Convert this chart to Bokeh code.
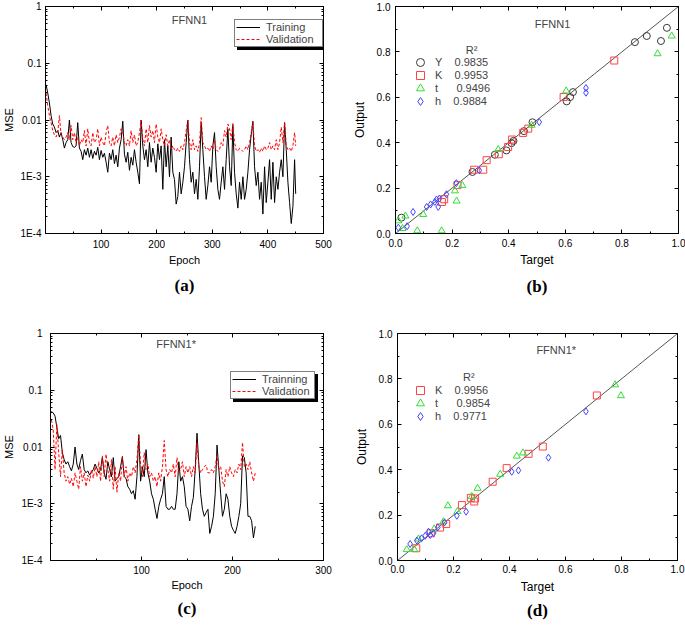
from bokeh.plotting import figure
from bokeh.models import (FixedTicker, LinearAxis, LogAxis, Legend, LegendItem, Label,
                          Title, CustomJSTickFormatter, PrintfTickFormatter)
from bokeh.layouts import row, column
from bokeh.embed import file_html
from bokeh.resources import INLINE

SANS = "Liberation Sans"
SERIF = "Liberation Serif"

# ---------------- data: panel (a) FFNN1 training history ----------------
epoch_a = list(range(1, 449, 3)) + [450]
train_a = [0.042, 0.030, 0.020, 0.012, 0.0085, 0.0075, 0.0060, 0.0065, 0.0050, 0.0060,
           0.0045, 0.0032, 0.0040, 0.0045, 0.0100, 0.0040, 0.0034, 0.0033, 0.0035, 0.0090,
           0.0032, 0.0028, 0.0020, 0.0030, 0.0024, 0.0032, 0.0022, 0.0030, 0.0021, 0.0028,
           0.0024, 0.0033, 0.0020, 0.0029, 0.0022, 0.0026, 0.0018, 0.0012, 0.0026, 0.0020,
           0.0030, 0.0017, 0.0024, 0.0015, 0.0032, 0.0045, 0.0095, 0.0025, 0.0018, 0.0027,
           0.0013, 0.0022, 0.0016, 0.0030, 0.0018, 0.0012, 0.00075, 0.0100, 0.0035, 0.0020,
           0.0030, 0.0015, 0.0040, 0.0018, 0.0032, 0.0022, 0.0012, 0.0038, 0.0020, 0.0035,
           0.0006, 0.0045, 0.0015, 0.0035, 0.0010, 0.0050, 0.0012, 0.0009, 0.00033, 0.00045,
           0.0012, 0.0005, 0.0008, 0.0015, 0.0040, 0.0100, 0.0020, 0.0008, 0.0012, 0.0005,
           0.0009, 0.0004, 0.0015, 0.0090, 0.0030, 0.0010, 0.0004, 0.0007, 0.0015, 0.0008,
           0.0035, 0.0060, 0.0015, 0.0006, 0.0004, 0.0008, 0.0015, 0.0006, 0.0020, 0.0070,
           0.0015, 0.0007, 0.0080, 0.0012, 0.0005, 0.00028, 0.0008, 0.0004, 0.0010, 0.0004,
           0.0006, 0.0012, 0.0030, 0.0055, 0.0095, 0.0015, 0.0007, 0.0012, 0.0004, 0.0008,
           0.00022, 0.0015, 0.00035, 0.0008, 0.0020, 0.0004, 0.0018, 0.00035, 0.0010, 0.0006,
           0.0012, 0.0020, 0.0010, 0.0090, 0.0030, 0.0008, 0.00035, 0.00015, 0.0003, 0.0020,
           0.0005]
valid_a = [0.030, 0.018, 0.012, 0.009, 0.0065, 0.0055, 0.0050, 0.0060, 0.0120, 0.0055,
           0.0050, 0.0045, 0.0050, 0.0060, 0.0045, 0.0080, 0.0045, 0.0060, 0.0040, 0.0050,
           0.0035, 0.0045, 0.0040, 0.0065, 0.0035, 0.0070, 0.0040, 0.0035, 0.0060, 0.0040,
           0.0045, 0.0070, 0.0035, 0.0050, 0.0040, 0.0035, 0.0060, 0.0080, 0.0040, 0.0035,
           0.0050, 0.0035, 0.0055, 0.0040, 0.0050, 0.0070, 0.0060, 0.0040, 0.0035, 0.0045,
           0.0035, 0.0065, 0.0040, 0.0055, 0.0035, 0.0040, 0.0060, 0.0100, 0.0045, 0.0035,
           0.0070, 0.0040, 0.0080, 0.0050, 0.0065, 0.0040, 0.0085, 0.0050, 0.0040, 0.0070,
           0.0045, 0.0035, 0.0055, 0.0035, 0.0045, 0.0030, 0.0035, 0.0030, 0.0028, 0.0032,
           0.0028, 0.0035, 0.0030, 0.0040, 0.0065, 0.0100, 0.0040, 0.0030, 0.0045, 0.0030,
           0.0035, 0.0028, 0.0040, 0.0110, 0.0040, 0.0035, 0.0030, 0.0032, 0.0028, 0.0035,
           0.0030, 0.0045, 0.0030, 0.0028, 0.0030, 0.0040, 0.0035, 0.0065, 0.0050, 0.0085,
           0.0070, 0.0045, 0.0090, 0.0040, 0.0030, 0.0028, 0.0032, 0.0030, 0.0028, 0.0030,
           0.0035, 0.0030, 0.0040, 0.0060, 0.0090, 0.0035, 0.0028, 0.0030, 0.0027, 0.0032,
           0.0028, 0.0035, 0.0030, 0.0032, 0.0040, 0.0030, 0.0035, 0.0030, 0.0045, 0.0030,
           0.0040, 0.0075, 0.0040, 0.0090, 0.0035, 0.0030, 0.0032, 0.0028, 0.0035, 0.0060,
           0.0035]

# ---------------- data: panel (c) FFNN1* training history ----------------
epoch_c = list(range(1, 226, 2))
train_c = [0.042, 0.040, 0.035, 0.022, 0.014, 0.016, 0.008, 0.006, 0.005, 0.0055,
           0.0045, 0.0038, 0.005, 0.010, 0.005, 0.004, 0.0058, 0.0075, 0.004, 0.0035,
           0.0038, 0.0032, 0.0036, 0.004, 0.005, 0.0042, 0.0035, 0.004, 0.0066, 0.0035,
           0.0027, 0.0055, 0.004, 0.003, 0.0065, 0.0025, 0.0028, 0.003, 0.0045, 0.0068,
           0.003, 0.0028, 0.002, 0.0018, 0.0015, 0.0017, 0.0012, 0.003, 0.0165, 0.0025,
           0.0045, 0.003, 0.009, 0.0035, 0.0025, 0.0015, 0.0012, 0.0008, 0.00055, 0.0009,
           0.0012, 0.0015, 0.003, 0.0009, 0.0008, 0.0008, 0.0009, 0.0008, 0.0008, 0.0015,
           0.0055, 0.0025, 0.003, 0.002, 0.0009, 0.0008, 0.0005, 0.0009, 0.0013, 0.004,
           0.0175, 0.005, 0.0015, 0.0008, 0.0006, 0.0007, 0.0008, 0.0003, 0.0004, 0.0006,
           0.0015, 0.0108, 0.004, 0.0015, 0.0006, 0.0008, 0.0015, 0.0012, 0.0006, 0.0004,
           0.00034, 0.0003, 0.0004, 0.0006, 0.001, 0.007, 0.0065, 0.0035, 0.0006, 0.0006,
           0.0005, 0.00025, 0.0004]
valid_c = [0.030, 0.020, 0.004, 0.025, 0.008, 0.003, 0.009, 0.0035, 0.0025, 0.003,
           0.0022, 0.0028, 0.002, 0.0035, 0.0025, 0.0018, 0.0045, 0.0025, 0.0035, 0.002,
           0.0032, 0.0025, 0.004, 0.0028, 0.0045, 0.003, 0.0055, 0.0025, 0.007, 0.003,
           0.0075, 0.004, 0.0025, 0.006, 0.0018, 0.0045, 0.0016, 0.0035, 0.0025, 0.0065,
           0.003, 0.0045, 0.0025, 0.0035, 0.003, 0.0045, 0.0035, 0.006, 0.0165, 0.005,
           0.003, 0.008, 0.004, 0.005, 0.003, 0.0035, 0.0025, 0.003, 0.002, 0.0035,
           0.0025, 0.0045, 0.013, 0.004, 0.003, 0.004, 0.0035, 0.005, 0.003, 0.0065,
           0.0035, 0.004, 0.0055, 0.003, 0.0045, 0.0035, 0.0045, 0.003, 0.0045, 0.0035,
           0.012, 0.0045, 0.0035, 0.004, 0.0045, 0.0048, 0.0035, 0.0035, 0.004, 0.0035,
           0.0045, 0.007, 0.004, 0.0045, 0.0025, 0.002, 0.004, 0.003, 0.0045, 0.0035,
           0.003, 0.004, 0.0035, 0.005, 0.004, 0.012, 0.0045, 0.005, 0.004, 0.0055,
           0.0035, 0.0025, 0.0035]

# ---------------- data: panel (b) FFNN1 target vs output ----------------
b_Y_x = [0.021, 0.272, 0.351, 0.392, 0.410, 0.417, 0.454, 0.484, 0.605, 0.617, 0.627, 0.846, 0.888, 0.938, 0.959]
b_Y_y = [0.070, 0.271, 0.347, 0.366, 0.398, 0.408, 0.451, 0.490, 0.582, 0.601, 0.623, 0.843, 0.870, 0.848, 0.906]
b_K_x = [0.164, 0.172, 0.219, 0.278, 0.310, 0.322, 0.365, 0.398, 0.412, 0.451, 0.469, 0.594, 0.773]
b_K_y = [0.139, 0.151, 0.213, 0.281, 0.281, 0.323, 0.349, 0.381, 0.414, 0.443, 0.462, 0.601, 0.762]
b_t_x = [0.010, 0.025, 0.035, 0.077, 0.098, 0.163, 0.210, 0.216, 0.236, 0.363, 0.481, 0.603, 0.926, 0.976]
b_t_y = [0.056, 0.022, 0.077, 0.012, 0.084, 0.012, 0.188, 0.143, 0.212, 0.370, 0.477, 0.628, 0.792, 0.870]
b_h_x = [0.010, 0.041, 0.062, 0.110, 0.124, 0.139, 0.145, 0.151, 0.155, 0.180, 0.215, 0.296, 0.508, 0.673, 0.673]
b_h_y = [0.026, 0.032, 0.095, 0.117, 0.128, 0.139, 0.150, 0.117, 0.154, 0.173, 0.222, 0.278, 0.491, 0.641, 0.620]
r2_b = {"Y": "0.9835", "K": "0.9953", "t": "0.9496", "h": "0.9884"}

# ---------------- data: panel (d) FFNN1* target vs output ----------------
d_K_x = [0.067, 0.119, 0.152, 0.174, 0.230, 0.262, 0.274, 0.277, 0.340, 0.390, 0.468, 0.519, 0.712]
d_K_y = [0.054, 0.120, 0.145, 0.161, 0.244, 0.276, 0.260, 0.273, 0.347, 0.407, 0.470, 0.502, 0.727]
d_t_x = [0.033, 0.060, 0.075, 0.131, 0.164, 0.180, 0.214, 0.265, 0.286, 0.367, 0.426, 0.448, 0.777, 0.798]
d_t_y = [0.048, 0.048, 0.095, 0.139, 0.171, 0.241, 0.216, 0.282, 0.318, 0.380, 0.460, 0.474, 0.774, 0.726]
d_h_x = [0.045, 0.069, 0.086, 0.099, 0.111, 0.117, 0.129, 0.144, 0.168, 0.212, 0.245, 0.408, 0.432, 0.539, 0.673]
d_h_y = [0.073, 0.088, 0.098, 0.109, 0.127, 0.112, 0.121, 0.146, 0.168, 0.197, 0.215, 0.391, 0.397, 0.453, 0.657]
r2_d = {"K": "0.9956", "t": "0.9854", "h": "0.9771"}

diag = [0.0, 1.0]

# ticks
log_major = [1e-4, 1e-3, 1e-2, 1e-1, 1.0]
log_minor = [m * 10.0 ** e for e in range(-4, 0) for m in range(2, 10)]
unit_major = [0.0, 0.2, 0.4, 0.6, 0.8, 1.0]
unit_minor = [0.1, 0.3, 0.5, 0.7, 0.9]

MARK = {"Y": ("circle", "#3a3a3a"), "K": ("square", "#ff4444"),
        "t": ("triangle", "#33dd33"), "h": ("diamond", "#4444ff")}
NB = "\u00a0"
GAP = {"Y": 4, "K": 4, "t": 6, "h": 4}

log_fmt = CustomJSTickFormatter(code="""
const e = Math.round(Math.log10(tick));
if (e == 0) { return "1"; }
if (e == -1) { return "0.1"; }
if (e == -2) { return "0.01"; }
return "1E" + e;
""")
blank_fmt = CustomJSTickFormatter(code="return '';")


def style_axis(ax, ticker, fmt=None, show=True, standoff=4):
    ax.ticker = ticker
    ax.major_tick_in = 4
    ax.major_tick_out = 0
    ax.minor_tick_in = 2
    ax.minor_tick_out = 0
    ax.axis_line_color = "black"
    ax.major_tick_line_color = "black"
    ax.minor_tick_line_color = "black"
    ax.major_label_text_font = SANS
    ax.major_label_text_color = "black"
    if show:
        if fmt is not None:
            ax.formatter = fmt
        ax.major_label_text_font_size = "10px"
        ax.major_label_standoff = standoff
    else:
        ax.formatter = blank_fmt
        ax.major_label_text_font_size = "1px"
        ax.major_label_standoff = 0
    ax.axis_label_text_font = SANS
    ax.axis_label_text_font_style = "normal"
    ax.axis_label_text_color = "black"


def base_fig(w, h, left, right, top, bottom, xr, yr, log):
    p = figure(width=w, height=h, x_range=xr, y_range=yr,
               y_axis_type="log" if log else "linear",
               output_backend="svg", toolbar_location=None,
               min_border_left=left, min_border_right=right,
               min_border_top=top, min_border_bottom=bottom)
    p.xgrid.visible = False
    p.ygrid.visible = False
    p.outline_line_color = "black"
    p.background_fill_color = "white"
    p.border_fill_color = "white"
    return p


def panel_title(p, text, standoff):
    p.add_layout(Title(text=text, align="center", text_font=SERIF, text_font_style="bold",
                       text_font_size="17px", text_color="black", standoff=standoff), "below")


def mse_panel(w, h, mb, sto, xmax, xt_major, xt_minor, ep, tr, va, tr_label,
              name, name_xy, leg_xy, leg_lw, tag, tag_standoff):
    p = base_fig(w, h, *mb, (0, xmax), (1e-4, 1), True)
    xax = p.below[0]
    yax = p.left[0]
    xt = FixedTicker(ticks=xt_major, minor_ticks=xt_minor)
    yt = FixedTicker(ticks=log_major, minor_ticks=log_minor)
    style_axis(xax, xt, standoff=sto[0])
    style_axis(yax, yt, log_fmt, standoff=sto[1])
    xax.axis_label = "Epoch"
    yax.axis_label = "MSE"
    xax.axis_label_standoff = sto[2]
    yax.axis_label_standoff = sto[3]
    for ax in (xax, yax):
        ax.axis_label_text_font_size = "11px"
    top = LinearAxis()
    style_axis(top, xt, show=False)
    p.add_layout(top, "above")
    right = LogAxis()
    style_axis(right, yt, show=False)
    p.add_layout(right, "right")
    r_t = p.line(ep, tr, line_color="black", line_width=1)
    r_v = p.line(ep, va, line_color="#ff0000", line_width=1, line_dash="3 2")
    p.add_layout(Label(x=name_xy[0], y=name_xy[1], text=name, text_font=SANS,
                       text_font_size="11px", text_align="center", text_baseline="middle"))
    common = dict(padding=1, margin=0, spacing=0, glyph_width=24, glyph_height=12,
                  label_height=12, label_width=leg_lw, label_standoff=6,
                  label_text_font=SANS, label_text_font_size="11px",
                  border_line_color="black", border_line_width=1, background_fill_alpha=1)
    vx, vy = leg_xy
    shadow = Legend(items=[LegendItem(label=NB, renderers=[r_t]),
                           LegendItem(label=NB, renderers=[r_v])],
                    location=(vx + 3, vy - 3), background_fill_color="black",
                    label_text_color="black", **common)
    p.add_layout(shadow)
    leg = Legend(items=[LegendItem(label=tr_label, renderers=[r_t]),
                        LegendItem(label="Validation", renderers=[r_v])],
                 location=(vx, vy), background_fill_color="white", **common)
    p.add_layout(leg)
    panel_title(p, tag, tag_standoff)
    return p


def scatter_panel(w, h, mb, sto, series, r2, name, name_xy, r2_xy, leg_a, leg_b, tag, tag_standoff):
    p = base_fig(w, h, *mb, (0, 1), (0, 1), False)
    xax = p.below[0]
    yax = p.left[0]
    t = FixedTicker(ticks=unit_major, minor_ticks=unit_minor)
    fmt = PrintfTickFormatter(format="%.1f")
    style_axis(xax, t, fmt, standoff=sto[0])
    style_axis(yax, t, fmt, standoff=sto[1])
    xax.axis_label = "Target"
    yax.axis_label = "Output"
    xax.axis_label_standoff = sto[2]
    yax.axis_label_standoff = sto[3]
    for ax in (xax, yax):
        ax.axis_label_text_font_size = "12px"
    top = LinearAxis()
    style_axis(top, t, show=False)
    p.add_layout(top, "above")
    right = LinearAxis()
    style_axis(right, t, show=False)
    p.add_layout(right, "right")
    p.line(diag, diag, line_color="#555555", line_width=1)
    items = []
    for key, xs, ys in series:
        marker, col = MARK[key]
        r = p.scatter(xs, ys, marker=marker, size=7, fill_color=None,
                      line_color=col, line_width=1)
        items.append(LegendItem(label=key + NB * GAP[key] + r2[key], renderers=[r]))
    p.add_layout(Label(x=name_xy[0], y=name_xy[1], text=name, text_font=SANS,
                       text_font_size="11px", text_align="center", text_baseline="middle"))
    p.add_layout(Label(x=r2_xy[0], y=r2_xy[1], text="R\u00b2", text_font=SANS,
                       text_font_size="11px", text_align="center", text_baseline="middle"))
    # two interleaved legends give a 13 px row pitch with full-size markers
    common = dict(padding=0, margin=0, spacing=6, glyph_width=20, glyph_height=20,
                  label_height=20, label_standoff=5,
                  label_text_font=SANS, label_text_font_size="11px",
                  border_line_alpha=0, background_fill_alpha=0)
    p.add_layout(Legend(items=items[0::2], location=leg_a, **common))
    p.add_layout(Legend(items=items[1::2], location=leg_b, **common))
    panel_title(p, tag, tag_standoff)
    return p


pa = mse_panel(340, 310, (41, 17, 6, 77), (6, 4, 3, 2), 500, [100, 200, 300, 400, 500],
               [50, 150, 250, 350, 450], epoch_a, train_a, valid_a, "Training",
               "FFNN1", (259, 0.59), (189, 186), 55, "(a)", 10)
pb = scatter_panel(345, 310, (55, 7, 6, 77), (5, 5, 3, 7),
                   [("Y", b_Y_x, b_Y_y), ("K", b_K_x, b_K_y), ("t", b_t_x, b_t_y), ("h", b_h_x, b_h_y)],
                   r2_b, "FFNN1", (0.555, 0.925), (0.269, 0.81), (15, 135), (15, 122), "(b)", 10)
pc = mse_panel(340, 315, (47, 17, 23, 65), (5, 8, 2, 3), 300, [100, 200, 300], [50, 150, 250],
               epoch_c, train_c, valid_c, "Trainning",
               "FFNN1*", (138, 0.66), (180, 161), 51, "(c)", 6)
pd = scatter_panel(345, 315, (57, 8, 23, 65), (4, 5, 4, 7),
                   [("K", d_K_x, d_K_y), ("t", d_t_x, d_t_y), ("h", d_h_x, d_h_y)],
                   r2_d, "FFNN1*", (0.567, 0.927), (0.255, 0.81), (13, 134), (13, 147), "(d)", 4)

layout = column(row(pa, pb), row(pc, pd))
open("out.html", "w").write(file_html(layout, INLINE))
